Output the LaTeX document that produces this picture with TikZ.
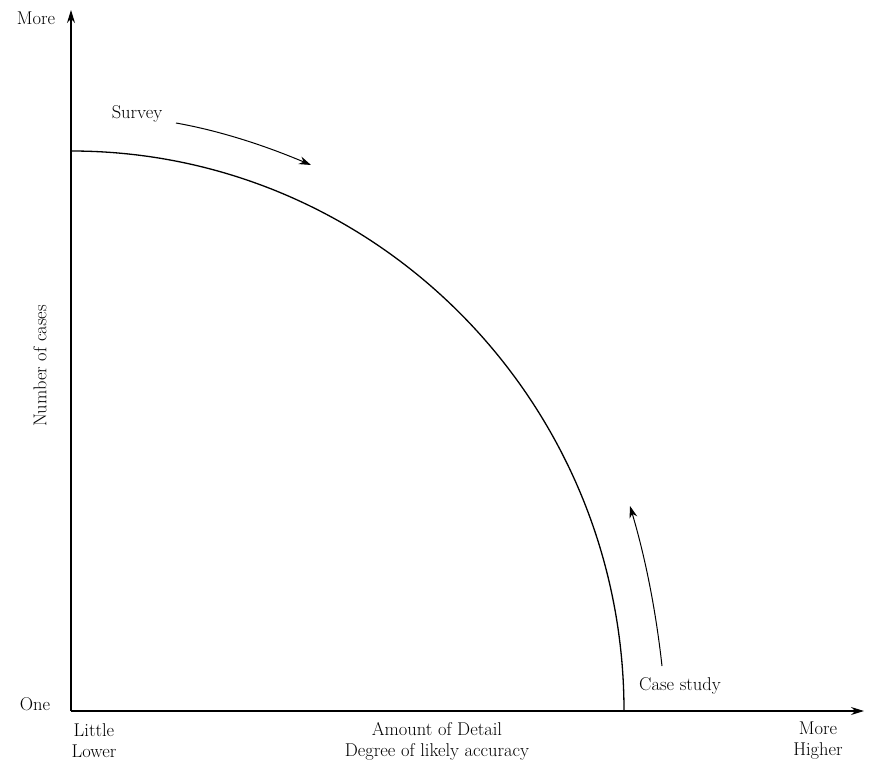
\documentclass[tikz,border=0pt]{standalone}
\usepackage{tikz}
\usetikzlibrary{arrows.meta, positioning, calc}
\tikzset{
  axis line/.style={line width=1.3pt, -{Stealth[length=13pt, width=8pt]}},
  trade curve/.style={line width=1.3pt},
  move arrow/.style={line width=1pt, -{Stealth[length=12pt, width=8pt]}},
  axis label/.style={font=\fontsize{18.5}{21}\selectfont, inner sep=1pt},
  axis text/.style={font=\fontsize{18.5}{21}\selectfont, inner sep=1pt, align=center}
}

\begin{document}
\begin{tikzpicture}[x=1pt, y=-1pt, >=Stealth]
  \useasboundingbox (0,0) rectangle (883,765);

  % --- Axes ---
  \coordinate (O) at (71,711);
  \coordinate (Ytop) at (71,10);
  \coordinate (Xend) at (864,711);
  \draw[axis line] (O) -- (Ytop);
  \draw[axis line] (O) -- (Xend);

  % --- Axis end labels ---
  \node[axis label] (more-y) at (36,18) {More};
  \node[axis label] (one) at (35,704) {One};
  \node[axis label, rotate=90] (cases) at (40,366) {Number of cases};
  \node[axis text] (little) at (94,741) {Little\\Lower};
  \node[axis text] (detail) at (437,741) {Amount of Detail\\Degree of likely accuracy};
  \node[axis text] (more-x) at (818,741) {More\\Higher};

  % --- Trade-off curve (quarter ellipse) ---
  \coordinate (C-top) at (71,151);
  \coordinate (C-bot) at (624,711);
  \draw[trade curve] (C-top) .. controls (376,151) and (624,402) .. (C-bot);

  % --- Movement arrows ---
  \node[axis label] (survey) at (137,114) {Survey};
  \coordinate (survey-start) at (176,123);
  \coordinate (survey-end) at (311,165);
  \draw[move arrow] (survey-start) .. controls (221,131) and (266,146) .. (survey-end);

  \node[axis label] (case) at (680,686) {Case study};
  \coordinate (case-start) at (662,666);
  \coordinate (case-end) at (630,506);
  \draw[move arrow] (case-start) .. controls (656,612) and (646,560) .. (case-end);
\end{tikzpicture}
\end{document}
